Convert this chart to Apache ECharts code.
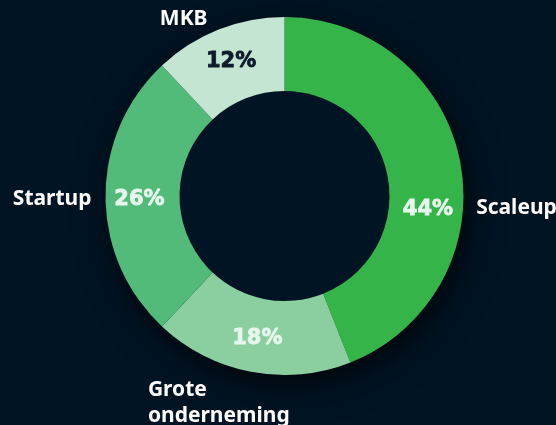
<!DOCTYPE html>
<html>
<head>
<meta charset="utf-8">
<script src="https://cdn.jsdelivr.net/npm/echarts@6/dist/echarts.min.js"></script>
<style>
  html, body { margin: 0; padding: 0; background: #011424; }
  #chart { width: 556px; height: 425px; }
</style>
</head>
<body>
<div id="chart"></div>
<script>
// ---- data ----
const categories = ['Scaleup', 'Grote onderneming', 'Startup', 'MKB'];
const values = [44, 18, 26, 12];
const outerLabels = ['Scaleup', 'Grote\nonderneming', 'Startup', 'MKB'];

// ---- styles ----
const bg = '#011424';
const sliceColors = ['#35b44a', '#8bcfa0', '#52bb7a', '#c3e5d1'];
const pctColors = ['#e6f6ec', '#e6f6ec', '#e6f6ec', '#0d1a2b'];
const pctNudge = [[1, 41], [0, 0], [0, 4], [0, 0]];
const nameNudge = [[0, 48], [-96, 20], [2, 3], [-2, 0]];
const nameAlign = [null, 'left', null, null];

const center = [284.5, 196];
const radii = [105, 179];

const chart = echarts.init(document.getElementById('chart'), null, { renderer: 'canvas' });

chart.setOption({
  backgroundColor: bg,
  animation: false,
  series: [
    {
      // backdrop disc casting the soft shadow
      type: 'pie',
      silent: true,
      center: center,
      radius: [0, radii[1]],
      data: [{ value: 1, name: '' }],
      label: { show: false },
      labelLine: { show: false },
      itemStyle: {
        color: bg,
        borderWidth: 0,
        shadowBlur: 35,
        shadowOffsetX: 5,
        shadowOffsetY: 10,
        shadowColor: 'rgba(0,0,0,0.75)'
      },
      emphasis: { disabled: true }
    },
    {
      type: 'pie',
      silent: true,
      center: center,
      radius: radii,
      startAngle: 90,
      clockwise: true,
      avoidLabelOverlap: false,
      data: values.map((v, i) => ({
        name: categories[i],
        value: v,
        itemStyle: { color: sliceColors[i] },
        label: { color: pctColors[i], textBorderColor: pctColors[i] }
      })),
      itemStyle: { borderWidth: 0 },
      label: {
        show: true,
        position: 'inside',
        formatter: '{c}%',
        fontFamily: 'DejaVu Sans',
        fontWeight: 'bold',
        fontSize: 21,
        textBorderWidth: 0.8
      },
      labelLine: { show: false },
      labelLayout: function (p) {
        const n = pctNudge[p.dataIndex];
        return { dx: n[0], dy: n[1] };
      },
      emphasis: { disabled: true }
    },
    {
      type: 'pie',
      silent: true,
      center: center,
      radius: radii,
      startAngle: 90,
      clockwise: true,
      avoidLabelOverlap: false,
      data: values.map((v, i) => ({
        name: categories[i],
        value: v,
        itemStyle: { color: 'rgba(0,0,0,0)' }
      })),
      itemStyle: { borderWidth: 0 },
      label: {
        show: true,
        position: 'outside',
        formatter: p => outerLabels[p.dataIndex],
        fontFamily: 'Noto Sans',
        fontWeight: 'bold',
        fontSize: 21,
        lineHeight: 26,
        color: '#ffffff',
        overflow: 'none',
        distanceToLabelLine: 5,
        bleedMargin: 0
      },
      labelLine: { show: false, length: 11, length2: 0 },
      labelLayout: function (p) {
        const n = nameNudge[p.dataIndex];
        const o = { dx: n[0], dy: n[1] };
        if (nameAlign[p.dataIndex]) o.align = nameAlign[p.dataIndex];
        return o;
      },
      emphasis: { disabled: true }
    }
  ]
});
</script>
</body>
</html>
